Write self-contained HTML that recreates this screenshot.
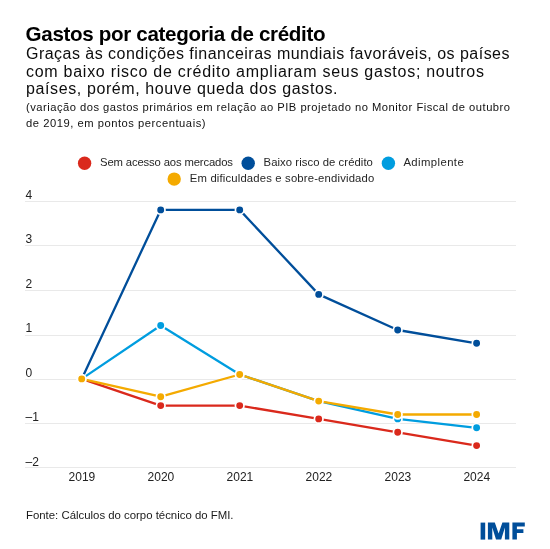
<!DOCTYPE html>
<html><head><meta charset="utf-8">
<style>
html,body{margin:0;padding:0;background:#fff;width:550px;height:549px;overflow:hidden}
svg{display:block;will-change:transform}
text{font-family:"Liberation Sans",sans-serif}
.ti{font-weight:bold;font-size:20.6px;fill:#000}
.st{font-size:16px;fill:#0d0d0d}
.sm{font-size:11.2px;fill:#111}
.fo{font-size:11.4px;fill:#1a1a1a}
.lg{font-size:11.3px;fill:#262626}
.ax{font-size:12px;fill:#222}
</style></head><body>
<svg width="550" height="549" viewBox="0 0 550 549">
<text x="25.6" y="41.3" class="ti" textLength="300" lengthAdjust="spacing">Gastos por categoria de crédito</text>
<text x="26" y="58.8" class="st" textLength="483.5" lengthAdjust="spacing">Graças às condições financeiras mundiais favoráveis, os países</text>
<text x="26" y="76.6" class="st" textLength="458" lengthAdjust="spacing">com baixo risco de crédito ampliaram seus gastos; noutros</text>
<text x="26" y="94.2" class="st" textLength="311.5" lengthAdjust="spacing">países, porém, houve queda dos gastos.</text>
<text x="26" y="110.8" class="sm" textLength="484" lengthAdjust="spacing">(variação dos gastos primários em relação ao PIB projetado no Monitor Fiscal de outubro</text>
<text x="26" y="126.6" class="sm" textLength="179.5" lengthAdjust="spacing">de 2019, em pontos percentuais)</text>
<circle cx="84.6" cy="163.2" r="6.7" fill="#da291c"/>
<text x="100" y="165.9" class="lg" textLength="133" lengthAdjust="spacing">Sem acesso aos mercados</text>
<circle cx="248.2" cy="163.2" r="6.7" fill="#004e9a"/>
<text x="263.6" y="165.9" class="lg" textLength="109.3" lengthAdjust="spacing">Baixo risco de crédito</text>
<circle cx="388.4" cy="163.2" r="6.7" fill="#009ddf"/>
<text x="403.4" y="165.9" class="lg" textLength="60.3" lengthAdjust="spacing">Adimplente</text>
<circle cx="174.2" cy="179.1" r="6.7" fill="#f4aa00"/>
<text x="189.8" y="181.8" class="lg" textLength="184.5" lengthAdjust="spacing">Em dificuldades e sobre-endividado</text>
<line x1="25" y1="201.5" x2="516" y2="201.5" stroke="#e9e9e9" stroke-width="1"/>
<line x1="25" y1="245.5" x2="516" y2="245.5" stroke="#e9e9e9" stroke-width="1"/>
<line x1="25" y1="290.5" x2="516" y2="290.5" stroke="#e9e9e9" stroke-width="1"/>
<line x1="25" y1="335.5" x2="516" y2="335.5" stroke="#e9e9e9" stroke-width="1"/>
<line x1="25" y1="379.5" x2="516" y2="379.5" stroke="#e9e9e9" stroke-width="1"/>
<line x1="25" y1="423.5" x2="516" y2="423.5" stroke="#e9e9e9" stroke-width="1"/>
<line x1="25" y1="467.5" x2="516" y2="467.5" stroke="#e9e9e9" stroke-width="1"/>
<text x="25.5" y="198.9" class="ax">4</text>
<text x="25.5" y="243.4" class="ax">3</text>
<text x="25.5" y="287.9" class="ax">2</text>
<text x="25.5" y="332.3" class="ax">1</text>
<text x="25.5" y="376.8" class="ax">0</text>
<text x="25.5" y="421.3" class="ax">–1</text>
<text x="25.5" y="465.7" class="ax">–2</text>
<text x="81.9" y="480.7" class="ax" text-anchor="middle">2019</text>
<text x="160.9" y="480.7" class="ax" text-anchor="middle">2020</text>
<text x="239.9" y="480.7" class="ax" text-anchor="middle">2021</text>
<text x="318.9" y="480.7" class="ax" text-anchor="middle">2022</text>
<text x="397.9" y="480.7" class="ax" text-anchor="middle">2023</text>
<text x="476.8" y="480.7" class="ax" text-anchor="middle">2024</text>
<polyline points="81.7,378.9 160.7,405.6 239.7,405.6 318.7,418.9 397.7,432.3 476.6,445.6" fill="none" stroke="#da291c" stroke-width="2.3" stroke-linejoin="round"/>
<circle cx="81.7" cy="378.9" r="4.3" fill="#da291c" stroke="#fff" stroke-width="1.7"/>
<circle cx="160.7" cy="405.6" r="4.3" fill="#da291c" stroke="#fff" stroke-width="1.7"/>
<circle cx="239.7" cy="405.6" r="4.3" fill="#da291c" stroke="#fff" stroke-width="1.7"/>
<circle cx="318.7" cy="418.9" r="4.3" fill="#da291c" stroke="#fff" stroke-width="1.7"/>
<circle cx="397.7" cy="432.3" r="4.3" fill="#da291c" stroke="#fff" stroke-width="1.7"/>
<circle cx="476.6" cy="445.6" r="4.3" fill="#da291c" stroke="#fff" stroke-width="1.7"/>
<polyline points="81.7,378.9 160.7,209.9 239.7,209.9 318.7,294.4 397.7,330.0 476.6,343.3" fill="none" stroke="#004e9a" stroke-width="2.3" stroke-linejoin="round"/>
<circle cx="81.7" cy="378.9" r="4.3" fill="#004e9a" stroke="#fff" stroke-width="1.7"/>
<circle cx="160.7" cy="209.9" r="4.3" fill="#004e9a" stroke="#fff" stroke-width="1.7"/>
<circle cx="239.7" cy="209.9" r="4.3" fill="#004e9a" stroke="#fff" stroke-width="1.7"/>
<circle cx="318.7" cy="294.4" r="4.3" fill="#004e9a" stroke="#fff" stroke-width="1.7"/>
<circle cx="397.7" cy="330.0" r="4.3" fill="#004e9a" stroke="#fff" stroke-width="1.7"/>
<circle cx="476.6" cy="343.3" r="4.3" fill="#004e9a" stroke="#fff" stroke-width="1.7"/>
<polyline points="81.7,378.9 160.7,325.5 239.7,374.5 318.7,401.1 397.7,418.9 476.6,427.8" fill="none" stroke="#009ddf" stroke-width="2.3" stroke-linejoin="round"/>
<circle cx="81.7" cy="378.9" r="4.3" fill="#009ddf" stroke="#fff" stroke-width="1.7"/>
<circle cx="160.7" cy="325.5" r="4.3" fill="#009ddf" stroke="#fff" stroke-width="1.7"/>
<circle cx="239.7" cy="374.5" r="4.3" fill="#009ddf" stroke="#fff" stroke-width="1.7"/>
<circle cx="318.7" cy="401.1" r="4.3" fill="#009ddf" stroke="#fff" stroke-width="1.7"/>
<circle cx="397.7" cy="418.9" r="4.3" fill="#009ddf" stroke="#fff" stroke-width="1.7"/>
<circle cx="476.6" cy="427.8" r="4.3" fill="#009ddf" stroke="#fff" stroke-width="1.7"/>
<polyline points="81.7,378.9 160.7,396.7 239.7,374.5 318.7,401.1 397.7,414.5 476.6,414.5" fill="none" stroke="#f4aa00" stroke-width="2.3" stroke-linejoin="round"/>
<circle cx="81.7" cy="378.9" r="4.3" fill="#f4aa00" stroke="#fff" stroke-width="1.7"/>
<circle cx="160.7" cy="396.7" r="4.3" fill="#f4aa00" stroke="#fff" stroke-width="1.7"/>
<circle cx="239.7" cy="374.5" r="4.3" fill="#f4aa00" stroke="#fff" stroke-width="1.7"/>
<circle cx="318.7" cy="401.1" r="4.3" fill="#f4aa00" stroke="#fff" stroke-width="1.7"/>
<circle cx="397.7" cy="414.5" r="4.3" fill="#f4aa00" stroke="#fff" stroke-width="1.7"/>
<circle cx="476.6" cy="414.5" r="4.3" fill="#f4aa00" stroke="#fff" stroke-width="1.7"/>

<text x="26" y="518.8" class="fo" textLength="207.5" lengthAdjust="spacing">Fonte: Cálculos do corpo técnico do FMI.</text>
<g fill="#004e9a">
<rect x="480.6" y="522.6" width="4.6" height="17"/>
<path d="M487.9 522.6H494.8L498.6 533.6L502.4 522.6H509.3V539.6H504.9V527.4L501.2 539.6H496.0L492.3 527.4V539.6H487.9Z"/>
<path d="M512.4 522.6H524.8V526.4H516.9V529.3H523.4V533H516.9V539.6H512.4Z"/>
</g>
</svg>
</body></html>
